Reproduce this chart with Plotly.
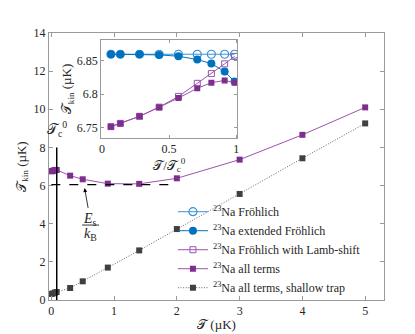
import plotly.graph_objects as go

# ---------------- data ----------------
Tc0 = 0.086  # µK, critical temperature (vertical line)

# inset: T / Tc0
ratio = [0.067, 0.137, 0.28, 0.426, 0.57, 0.71, 0.815, 0.914, 0.988]
frohlich = [6.860, 6.860, 6.860, 6.860, 6.860, 6.860, 6.860, 6.860, 6.860]
ext_frohlich = [6.860, 6.860, 6.860, 6.859, 6.857, 6.852, 6.846, 6.834, 6.819]
lamb_shift = [6.7515, 6.7564, 6.767, 6.7807, 6.7968, 6.8164, 6.831, 6.8456, 6.8567]
all_terms_low = [6.7515, 6.7564, 6.767, 6.7807, 6.7944, 6.809, 6.8173, 6.8208, 6.8173]

# main: higher temperatures (µK)
T_high = [0.3, 0.5, 0.9, 1.4, 2.0, 3.0, 4.0, 5.0]
all_terms_high = [6.52, 6.33, 6.10, 6.09, 6.38, 7.36, 8.66, 10.1]

T_shallow = [0.006, 0.03, 0.06, 0.085, 0.3, 0.5, 0.9, 1.4, 2.0, 3.0, 4.0, 5.0]
shallow = [0.32, 0.35, 0.39, 0.42, 0.63, 0.98, 1.70, 2.60, 3.72, 5.56, 7.43, 9.26]

Es_kB = 6.05          # dashed line level
Es_range = [0.0, 2.0]
Tc0_line_top = 8.0

names = ["<sup>23</sup>Na Fröhlich",
         "<sup>23</sup>Na extended Fröhlich",
         "<sup>23</sup>Na Fröhlich with Lamb-shift",
         "<sup>23</sup>Na all terms",
         "<sup>23</sup>Na all terms, shallow trap"]

# colours
blue = "#0072BD"
blue_light = "#3a93d6"
purple = "#7E2F8E"
purple_light = "#9a55ab"
gray = "#404040"

FONT = "Liberation Serif, DejaVu Serif, serif"
CAL = "𝒯"

T_main_all = [r * Tc0 for r in ratio] + T_high
all_main = all_terms_low + all_terms_high

fig = go.Figure()

# inset traces
fig.add_trace(go.Scatter(x=ratio, y=frohlich, mode="lines+markers", name=names[0],
                         xaxis="x2", yaxis="y2",
                         line=dict(color=blue_light, width=1),
                         marker=dict(symbol="circle-open", size=8, color=blue_light, line=dict(width=1.2))))
fig.add_trace(go.Scatter(x=ratio, y=ext_frohlich, mode="lines+markers", name=names[1],
                         xaxis="x2", yaxis="y2",
                         line=dict(color=blue, width=1),
                         marker=dict(symbol="circle", size=8, color=blue)))
fig.add_trace(go.Scatter(x=ratio, y=lamb_shift, mode="lines+markers", name=names[2],
                         xaxis="x2", yaxis="y2",
                         line=dict(color=purple_light, width=1),
                         marker=dict(symbol="square-open", size=6, color=purple_light, line=dict(width=1))))
# main traces
fig.add_trace(go.Scatter(x=T_main_all, y=all_main, mode="lines+markers", name=names[3],
                         line=dict(color=purple_light, width=1),
                         marker=dict(symbol="square", size=6, color=purple)))
fig.add_trace(go.Scatter(x=T_shallow, y=shallow, mode="lines+markers", name=names[4],
                         line=dict(color="#666666", width=1, dash="1px,1.6px"),
                         marker=dict(symbol="square", size=6, color=gray)))
fig.add_trace(go.Scatter(x=ratio, y=all_terms_low, mode="lines+markers", name=names[3],
                         xaxis="x2", yaxis="y2", showlegend=False,
                         line=dict(color=purple_light, width=1),
                         marker=dict(symbol="square", size=6, color=purple)))

axcol = "#9a9a9a"
tickfont = dict(family=FONT, size=12, color="#262626")

fig.update_layout(
    width=415, height=334,
    margin=dict(l=41, r=39, t=25, b=37),
    paper_bgcolor="white", plot_bgcolor="white",
    font=dict(family=FONT, size=12, color="#262626"),
    xaxis=dict(range=[-0.037, 5.3], tickvals=[0, 1, 2, 3, 4, 5], ticks="inside", ticklen=4,
               tickcolor=axcol, showline=True, linecolor=axcol, mirror="ticks", showgrid=False,
               zeroline=False, tickfont=tickfont,
               title=dict(text=CAL + " (µK)", font=dict(size=13), standoff=2)),
    yaxis=dict(range=[0, 14], tickvals=[0, 2, 4, 6, 8, 10, 12, 14], ticks="inside", ticklen=4,
               tickcolor=axcol, showline=True, linecolor=axcol, mirror="ticks", showgrid=False,
               zeroline=False, tickfont=tickfont,
               title=dict(text=CAL + "<sub>kin</sub> (µK)", font=dict(size=13), standoff=4)),
    xaxis2=dict(domain=[0.156, 0.562], anchor="y2", range=[-0.005, 1.008], tickvals=[0, 0.5, 1],
                ticktext=["0", "0.5", "1"], ticks="inside", ticklen=3, tickcolor=axcol,
                showline=True, linecolor=axcol, mirror="ticks", showgrid=False, zeroline=False,
                tickfont=tickfont,
                title=dict(text=CAL + "/" + CAL + "<sub>c</sub><sup>0</sup>", font=dict(size=13), standoff=0)),
    yaxis2=dict(domain=[0.608, 0.973], anchor="x2", range=[6.735, 6.881], tickvals=[6.75, 6.8, 6.85],
                ticktext=["6.75", "6.8", "6.85"], ticks="inside", ticklen=3, tickcolor=axcol,
                showline=True, linecolor=axcol, mirror="ticks", showgrid=False, zeroline=False,
                tickfont=tickfont,
                title=dict(text=CAL + "<sub>kin</sub> (µK)", font=dict(size=13), standoff=2)),
    legend=dict(x=0.37, y=0.385, xanchor="left", yanchor="top", bgcolor="rgba(0,0,0,0)",
                font=dict(family=FONT, size=12, color="#262626"), itemwidth=30),
    showlegend=True,
)

# vertical Tc0 line and dashed Es/kB line
fig.add_shape(type="line", x0=Tc0, x1=Tc0, y0=0, y1=Tc0_line_top, xref="x", yref="y",
              line=dict(color="black", width=1.5))
fig.add_shape(type="line", x0=Es_range[0], x1=Es_range[1], y0=Es_kB, y1=Es_kB, xref="x", yref="y",
              line=dict(color="black", width=1.2, dash="dash"))

# Tc0 label
fig.add_annotation(x=Tc0, y=Tc0_line_top, xref="x", yref="y", text=CAL + "<sub>c</sub><sup>0</sup>",
                   showarrow=False, xanchor="center", yanchor="bottom", font=dict(size=14), yshift=6)

# Es/kB fraction with arrow
frac_x = 0.62
fig.add_annotation(x=0.53, y=5.87, ax=0.59, ay=4.75, xref="x", yref="y", axref="x", ayref="y",
                   text="", showarrow=True, arrowhead=2, arrowsize=1, arrowwidth=0.8, arrowcolor="black")
fig.add_annotation(x=frac_x, y=4.22, xref="x", yref="y", text="<i>E</i><sub>s</sub>",
                   showarrow=False, font=dict(size=14))
fig.add_shape(type="line", x0=0.49, x1=0.76, y0=3.93, y1=3.93, xref="x", yref="y",
              line=dict(color="black", width=0.8))
fig.add_annotation(x=frac_x, y=3.43, xref="x", yref="y", text="<i>k</i><sub>B</sub>",
                   showarrow=False, font=dict(size=14))

fig.write_html("out.html")
